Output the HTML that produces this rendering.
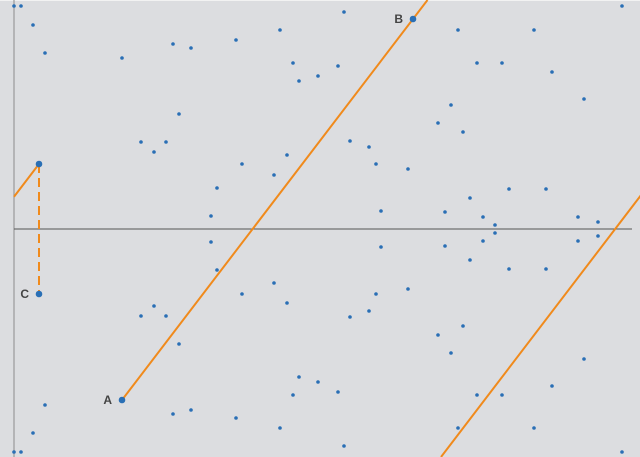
<!DOCTYPE html>
<html><head><meta charset="utf-8"><style>
html,body{margin:0;padding:0;background:#dcdde0;}
svg{display:block;font-family:"Liberation Sans",sans-serif;}
</style></head><body>
<svg id="chart" width="640" height="457" viewBox="0 0 640 457">
<rect x="0" y="0" width="640" height="457" fill="#dcdde0"/>
<line x1="0" y1="0.5" x2="640" y2="0.5" stroke="#f2f2f2" stroke-width="1"/>
<line x1="14" y1="0" x2="14" y2="457" stroke="#9a9a9a" stroke-width="1.2"/>
<line x1="14" y1="229" x2="632" y2="229" stroke="#555" stroke-width="1"/>
<g id="lines"></g>
<g id="dots"></g>
<g id="labels"></g>
</svg>
<script>
// upper-half points (mirrored across the x-axis at y=229)
const xs = [14,21,33,45,122,173,191,236,280,344,293,299,318,338,458,534,622,477,502,552,584,451,438,463,179,141,154,166,242,217,274,287,350,369,376,408,211,381,445,470,483,509,546,578,598,495];
const ys = [6,6,25,53,58,44,48,40,30,12,63,81,76,66,30,30,6,63,63,72,99,105,123,132,114,142,152,142,164,188,175,155,141,147,164,169,216,211,212,198,217,189,189,217,222,225];
const axisY = 229;
const specialX = [122,413,39,39];
const specialY = [400,19,164,294];
const specialLabels = ["A","B","","C"];
const NS="http://www.w3.org/2000/svg";
const dots=document.getElementById('dots');
function dot(x,y,r){
  const c=document.createElementNS(NS,'circle');
  
  
  c.setAttribute('cx',x);c.setAttribute('cy',y);c.setAttribute('r',r);c.setAttribute('fill','#2a6fb5');
  dots.appendChild(c);
}
for(let i=0;i<xs.length;i++){dot(xs[i],ys[i],1.8);dot(xs[i],2*axisY-ys[i],1.8);}
const lines=document.getElementById('lines');
function ln(x1,y1,x2,y2,dash,name){
  const l=document.createElementNS(NS,'line');
  
  
  l.setAttribute('x1',x1);l.setAttribute('y1',y1);l.setAttribute('x2',x2);l.setAttribute('y2',y2);
  l.setAttribute('stroke','#f08a1c');l.setAttribute('stroke-width','2');
  if(dash)l.setAttribute('stroke-dasharray',dash);
  lines.appendChild(l);
}
const slope=(specialY[1]-specialY[0])/(specialX[1]-specialX[0]);
ln(specialX[0],specialY[0],specialX[0]+(0-specialY[0])/slope,0,null,'line-a-b');
ln(441,457,441+(0-457)/slope,0,null,'line-parallel');
ln(14,specialY[2]+(14-specialX[2])*slope,specialX[2],specialY[2],null,'line-short');
ln(specialX[2],specialY[2],specialX[3],specialY[3],'9,5','line-c-dashed');
const labels=document.getElementById('labels');
for(let i=0;i<specialX.length;i++){
  dot(specialX[i],specialY[i],3.3);
  if(specialLabels[i]){
    const t=document.createElementNS(NS,'text');
    
    
    t.setAttribute('x',specialX[i]-10);t.setAttribute('y',specialY[i]+4);
    t.setAttribute('text-anchor','end');t.setAttribute('font-size','12');t.setAttribute('font-weight','bold');t.setAttribute('fill','#444');
    t.textContent=specialLabels[i];
    labels.appendChild(t);
  }
}
</script>
</body></html>
